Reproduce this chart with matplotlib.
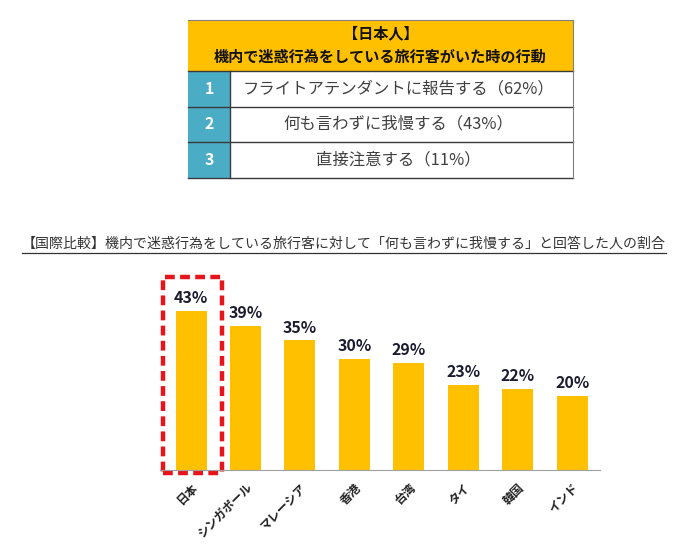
import matplotlib
matplotlib.use('Agg')
import matplotlib.pyplot as plt
from matplotlib.patches import Rectangle

plt.rcParams['font.family'] = ['Noto Sans CJK JP', 'DejaVu Sans']

# データ
table_title = ['【日本人】', '機内で迷惑行為をしている旅行客がいた時の行動']
table_ranks = ['1', '2', '3']
table_items = ['フライトアテンダントに報告する（62%）',
               '何も言わずに我慢する（43%）',
               '直接注意する（11%）']

subtitle = '【国際比較】機内で迷惑行為をしている旅行客に対して「何も言わずに我慢する」と回答した人の割合'
countries = ['日本', 'シンガポール', 'マレーシア', '香港', '台湾', 'タイ', '韓国', 'インド']
values = [43, 39, 35, 30, 29, 23, 22, 20]

yellow = '#FFC000'
teal = '#4BACC6'

fig = plt.figure(figsize=(6.96, 5.54), dpi=100)

# 表とタイトル用のピクセル座標の軸
bg = fig.add_axes([0, 0, 1, 1])
bg.set_xlim(0, 696)
bg.set_ylim(554, 0)
bg.axis('off')

tx0, tx1, tnum = 188, 573, 230
head_top, head_bot = 20, 71
row_h = 35.5
bg.add_patch(Rectangle((tx0, head_top), tx1 - tx0, head_bot - head_top,
                       facecolor=yellow, edgecolor='none'))
bg.text((tx0 + tx1) / 2, 33, table_title[0], ha='center', va='center',
        fontsize=10.9, fontweight='bold', color='#111111')
bg.text((tx0 + tx1) / 2, 57, table_title[1], ha='center', va='center',
        fontsize=10.9, fontweight='bold', color='#111111')
for i, (r, item) in enumerate(zip(table_ranks, table_items)):
    y0 = head_bot + i * row_h
    bg.add_patch(Rectangle((tx0, y0), tnum - tx0, row_h, facecolor=teal,
                           edgecolor='none'))
    bg.text((tx0 + tnum) / 2, y0 + row_h / 2, r, ha='center', va='center',
            fontsize=11.5, fontweight='bold', color='white')
    bg.text((tnum + tx1) / 2 - 3, y0 + row_h / 2, item, ha='center', va='center',
            fontsize=11.8, color='#404040')
    bg.plot([tx0, tx1], [y0 + row_h, y0 + row_h], color='#3a3a3a', lw=1)
bottom = head_bot + len(table_ranks) * row_h
bg.plot([tx0, tx1], [head_top, head_top], color='#808080', lw=0.8)
bg.plot([tx0, tx1], [head_bot, head_bot], color='#3a3a3a', lw=1)
bg.plot([tx1, tx1], [head_top, bottom], color='#808080', lw=0.8)
bg.plot([tnum, tnum], [head_bot, bottom], color='#3a3a3a', lw=1)

# 小見出し（下線付き）
bg.text(22, 244, subtitle, ha='left', va='center', fontsize=10.05, color='#333333')
bg.plot([22, 666], [253, 253], color='#333333', lw=0.9)

# 棒グラフ
ax = fig.add_axes([160 / 696, (554 - 470) / 554, 440 / 696, 200 / 554])
x = range(len(countries))
ax.bar(x, values, width=0.57, color=yellow)
ax.set_xlim(-0.57, 7.51)
ax.set_ylim(0, 54)
for xi, v in zip(x, values):
    ax.text(xi, v + 1.2, f'{v}%', ha='center', va='bottom', fontsize=11.5,
            fontweight='bold', color='#1c1c30')
ax.set_xticks(list(x))
ax.set_xticklabels(countries, rotation=45, ha='right', va='top',
                   rotation_mode='anchor', fontsize=8.6, fontweight='bold',
                   color='#222222')
ax.tick_params(axis='x', length=0, pad=8)
ax.set_yticks([])
for s in ['top', 'left', 'right']:
    ax.spines[s].set_visible(False)
ax.spines['bottom'].set_color('#a0a0a0')

# 日本を強調する赤い点線枠
ax.add_patch(Rectangle((-0.52, -0.8), 1.09, values[0] + 9.8, fill=False,
                       edgecolor='#E8141B', lw=3.2, linestyle=(0, (2.2, 1.2)),
                       clip_on=False))

fig.savefig('out.png', dpi=100)
